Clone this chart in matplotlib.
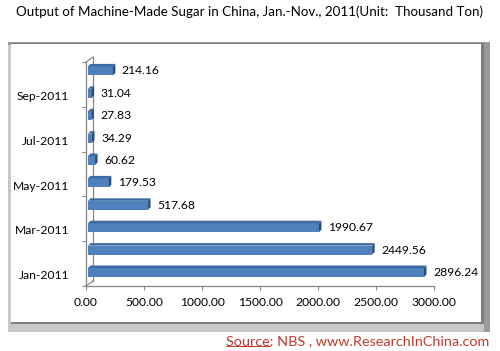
import matplotlib
matplotlib.use("Agg")
import matplotlib.pyplot as plt
from matplotlib.patches import Rectangle, Polygon

plt.rcParams['font.family'] = ['Lato', 'DejaVu Sans']

months = ["Jan-2011", "Feb-2011", "Mar-2011", "Apr-2011", "May-2011",
          "Jun-2011", "Jul-2011", "Aug-2011", "Sep-2011", "Oct-2011"]
output = [2896.24, 2449.56, 1990.67, 517.68, 179.53,
          60.62, 34.29, 27.83, 31.04, 214.16]
x_ticks = [0, 500, 1000, 1500, 2000, 2500, 3000]
title = "Output of Machine-Made Sugar in China, Jan.-Nov., 2011(Unit:  Thousand Ton)"

W, H = 500, 351
fig = plt.figure(figsize=(W / 100, H / 100), dpi=100)


def fx(px):
    return px / W


def fy(py):
    return 1 - py / H


# framed panel with shadow
fig.add_artist(Rectangle((fx(8), fy(332)), fx(482), 290 / H, transform=fig.transFigure,
                         facecolor="#9a9a9a", edgecolor="none", zorder=0))
fig.add_artist(Rectangle((fx(8), fy(332)), fx(476), 287 / H, transform=fig.transFigure,
                         facecolor="#c8c8c8", edgecolor="none", zorder=0))
fig.add_artist(Rectangle((fx(11), fy(324)), fx(473), 281 / H, transform=fig.transFigure,
                         facecolor="#7d7d7d", edgecolor="none", zorder=0))
fig.add_artist(Rectangle((fx(11), fy(322)), fx(470), 278 / H, transform=fig.transFigure,
                         facecolor="white", edgecolor="none", zorder=0))

fig.text(0.5, fy(12), title, ha="center", va="center", fontsize=9.6, color="black")

red = "#c0392b"
src = fig.text(fx(489), fy(341), "Source: NBS , www.ResearchInChina.com", ha="right",
               va="center", fontsize=10.4, color=red)
word = fig.text(0, 0, "Source", fontsize=10.4, alpha=0)
fig.canvas.draw()
r = fig.canvas.get_renderer()
bb = src.get_window_extent(r)
wb = word.get_window_extent(r)
fig.add_artist(plt.Line2D([bb.x0 / W, (bb.x0 + wb.width) / W],
                          [(bb.y0 + 1) / H, (bb.y0 + 1) / H], color=red, lw=0.7))

# axes placed so that 0..3000 spans the drawn axis
ax = fig.add_axes([fx(86), fy(286), 348 / W, 224 / H])
ax.set_xlim(0, 3000)
ax.set_ylim(-0.5, 9.5)
ax.patch.set_alpha(0)

px_x = 3000 / 348
px_y = 10 / 224
grey = "#868686"

for s in ["top", "right"]:
    ax.spines[s].set_visible(False)
for s in ["left", "bottom"]:
    ax.spines[s].set_color(grey)
    ax.spines[s].set_linewidth(0.9)

ax.set_xticks(x_ticks)
ax.set_xticklabels([f"{t:.2f}" for t in x_ticks], fontsize=8.7)
ax.tick_params(axis="x", direction="out", length=3, color=grey, pad=5)

ax.set_yticks([-0.5, 1.5, 3.5, 5.5, 7.5, 9.5])
ax.set_yticklabels([])
ax.set_yticks(range(0, len(months), 2), minor=True)
ax.set_yticklabels(months[::2], minor=True, fontsize=8.7)
ax.tick_params(axis="y", which="major", direction="out", length=3, color=grey)
ax.tick_params(axis="y", which="minor", length=0, pad=12)

# back wall and floor edges
dx, dy = 7 * px_x, 5 * px_y
ax.plot([dx, dx], [-0.5 + dy, 9.5 + dy], color=grey, lw=0.9, clip_on=False)
ax.plot([0, dx], [9.5, 9.5 + dy], color=grey, lw=0.9, clip_on=False)
ax.plot([0, dx], [-0.5, -0.5 + dy], color=grey, lw=0.9, clip_on=False)

# 3d bars
ox = 2 * px_x
hh = 4.5 * px_y
d_x, d_y = 2.5 * px_x, 2.5 * px_y
for i, v in enumerate(output):
    yc = i + 2.3 * px_y
    x0, x1 = ox, v + ox
    ax.add_patch(Rectangle((x0, yc - hh), x1 - x0, 2 * hh, facecolor="#4f81bd",
                           edgecolor="none", zorder=3, clip_on=False))
    ax.add_patch(Polygon([(x0, yc + hh), (x1, yc + hh), (x1 + d_x, yc + hh + d_y),
                          (x0 + d_x, yc + hh + d_y)], facecolor="#3d6aa3",
                         edgecolor="none", zorder=3, clip_on=False))
    ax.add_patch(Polygon([(x1, yc - hh), (x1 + d_x, yc - hh + d_y), (x1 + d_x, yc + hh + d_y),
                          (x1, yc + hh)], facecolor="#2b4c7a", edgecolor="none",
                         zorder=3, clip_on=False))
    ax.text(v + ox + 9 * px_x, yc, f"{v:.2f}", ha="left", va="center", fontsize=8.7)

fig.savefig("out.png", dpi=100)
